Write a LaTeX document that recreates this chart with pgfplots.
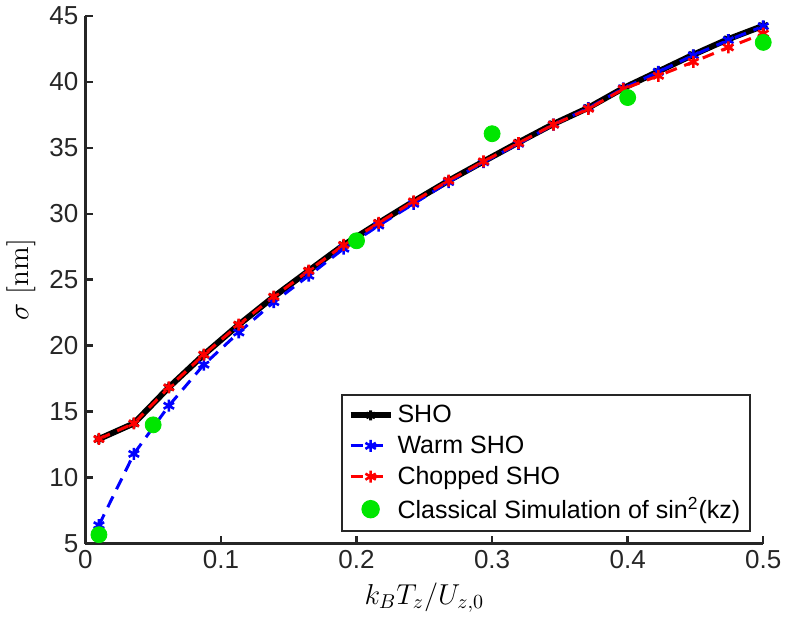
\documentclass[border=0pt]{standalone}
\usepackage[no-math]{fontspec}
\usepackage{pgfplots}
\pgfplotsset{compat=1.18}
\newfontfamily\helv{Liberation Sans}
\definecolor{mlgray}{gray}{0.15}
\definecolor{mlgreen}{RGB}{0,230,0}

\begin{document}
\begin{tikzpicture}
\begin{axis}[
  scale only axis, width=339pt, height=264pt,
  xmin=0, xmax=0.5, ymin=5, ymax=45,
  xtick={0,0.1,0.2,0.3,0.4,0.5}, ytick={5,10,...,45},
  axis x line*=bottom, axis y line*=left,
  axis line style={mlgray, line width=1.2pt, -},
  tick align=inside, major tick length=4pt,
  tick style={mlgray, line width=1.2pt},
  ticklabel style={font=\helv\fontsize{13}{15}\selectfont, text=mlgray},
  /pgf/number format/assume math mode=true,
  xticklabel style={/pgf/number format/fixed, /pgf/number format/precision=1},
  label style={font=\fontsize{14.5}{17}\selectfont},
  xlabel={$k_BT_z/U_{z,0}$},
  ylabel={$\sigma$ [nm]},
  legend style={at={(0.9826,0.2835)}, anchor=north east, draw=mlgray, line width=1.2pt,
    font=\helv\fontsize{12.5}{14.5}\selectfont, row sep=1pt, inner sep=3pt},
  legend cell align=left,
  legend image code/.code={\draw[mark repeat=2, mark phase=2]
    plot coordinates {(0cm,0cm) (0.35cm,0cm) (0.7cm,0cm)};},
]
\addplot[black, line width=3pt, mark=asterisk, mark size=2.5pt, mark options={solid, line width=1.5pt}]
  coordinates {(0.010000,12.93) (0.035789,14.11) (0.061579,16.84) (0.087368,19.32)
               (0.113158,21.59) (0.138947,23.71) (0.164737,25.68) (0.190526,27.63)
               (0.216316,29.30) (0.242105,30.93) (0.267895,32.50) (0.293684,33.96)
               (0.319474,35.40) (0.345263,36.80) (0.371053,38.03) (0.396842,39.52)
               (0.422632,40.78) (0.448421,42.05) (0.474211,43.23) (0.500000,44.24)};
\addlegendentry{SHO}
\addplot[blue, line width=1.5pt, dash pattern=on 6pt off 4pt, mark=asterisk, mark size=3pt, mark options={solid, line width=1.3pt}]
  coordinates {(0.010000,6.40) (0.035789,11.80) (0.061579,15.45) (0.087368,18.56)
               (0.113158,21.00) (0.138947,23.30) (0.164737,25.30) (0.190526,27.35)
               (0.216316,29.10) (0.242105,30.75) (0.267895,32.40) (0.293684,33.90)
               (0.319474,35.30) (0.345263,36.75) (0.371053,38.00) (0.396842,39.50)
               (0.422632,40.75) (0.448421,42.00) (0.474211,43.15) (0.500000,44.20)};
\addlegendentry{Warm SHO}
\addplot[red, line width=1.5pt, dash pattern=on 6pt off 4pt, mark=asterisk, mark size=3pt, mark options={solid, line width=1.3pt}]
  coordinates {(0.010000,12.93) (0.035789,14.11) (0.061579,16.84) (0.087368,19.32)
               (0.113158,21.59) (0.138947,23.71) (0.164737,25.68) (0.190526,27.63)
               (0.216316,29.30) (0.242105,30.93) (0.267895,32.50) (0.293684,33.96)
               (0.319474,35.35) (0.345263,36.75) (0.371053,37.95) (0.396842,39.45)
               (0.422632,40.45) (0.448421,41.50) (0.474211,42.60) (0.500000,43.65)};
\addlegendentry{Chopped SHO}
\addplot[only marks, mark=*, mark size=4pt, color=mlgreen]
  coordinates {(0.01,5.68) (0.05,14.0) (0.2,27.95) (0.3,36.06) (0.4,38.8) (0.5,42.98)};
\addlegendentry{Classical Simulation of sin\textsuperscript{2}(kz)}
\end{axis}
\end{tikzpicture}
\end{document}
